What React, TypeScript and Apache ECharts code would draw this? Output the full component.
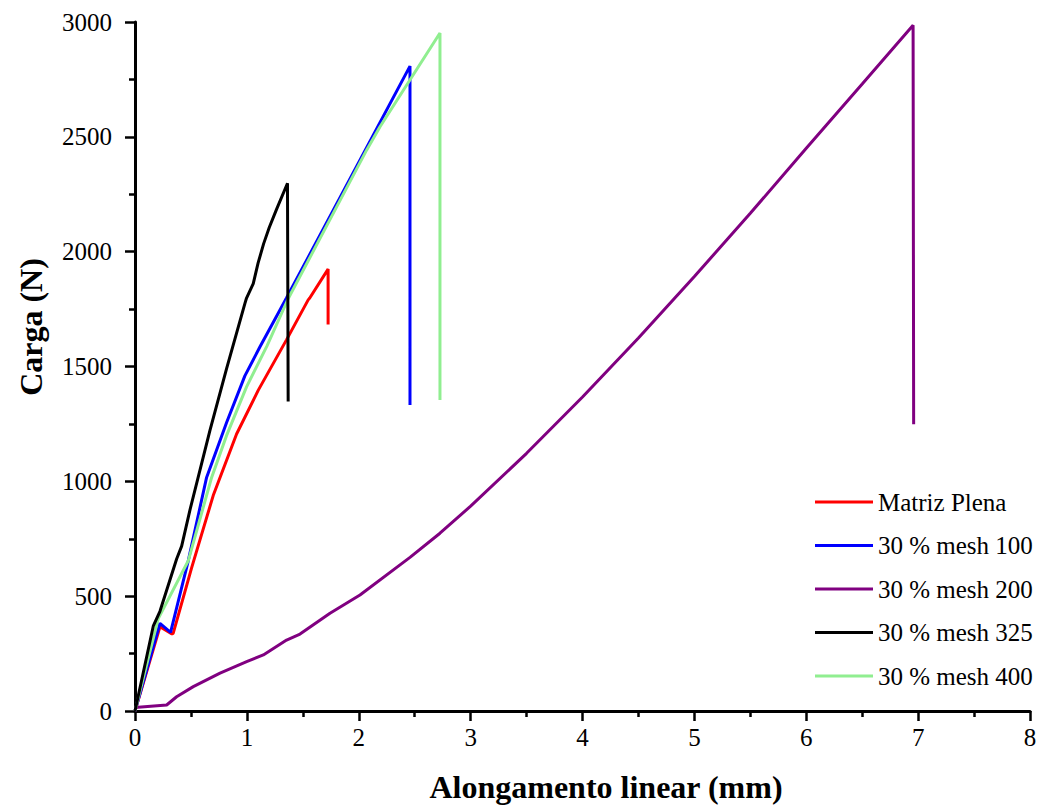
import React, { useEffect, useRef } from "react";
import * as echarts from "echarts";

// Load (N) versus linear elongation (mm) for each specimen, [mm, N] pairs.
const matrizPlena: [number, number][] = [
  [0, 0], [0.223, 367], [0.33, 335], [0.342, 339], [0.506, 623], [0.699, 938],
  [0.908, 1206], [1.101, 1396], [1.354, 1616], [1.548, 1790], [1.562, 1798],
  [1.726, 1924], [1.726, 1683],
];

const mesh100: [number, number][] = [
  [0, 0], [0.223, 382], [0.318, 342], [0.476, 654], [0.64, 1017], [0.818, 1255],
  [0.982, 1459], [1.116, 1585], [1.354, 1798], [2.458, 2808], [2.458, 1332],
];

const mesh200: [number, number][] = [
  [0, 15], [0.283, 26], [0.372, 62], [0.521, 106], [0.76, 165], [0.998, 215],
  [1.147, 244], [1.355, 309], [1.475, 335], [1.743, 426], [2.011, 505],
  [2.458, 669], [2.726, 774], [3.0, 892], [3.5, 1122], [4.0, 1367],
  [4.5, 1624], [5.0, 1892], [5.5, 2167], [6.0, 2450], [6.5, 2730],
  [6.955, 2986], [6.96, 1249],
];

const mesh325: [number, number][] = [
  [0, 0], [0.164, 371], [0.223, 434], [0.372, 662], [0.417, 718], [0.491, 875],
  [0.67, 1222], [0.818, 1490], [0.982, 1774], [0.997, 1798], [1.057, 1861],
  [1.1, 1950], [1.15, 2035], [1.2, 2105], [1.265, 2184], [1.363, 2298],
  [1.369, 1348],
];

const mesh400: [number, number][] = [
  [0, 0], [0.208, 402], [0.476, 654], [0.685, 1017], [0.818, 1199], [0.997, 1411],
  [1.18, 1590], [1.369, 1795], [2.07, 2442], [2.19, 2544], [2.726, 2952],
  [2.726, 1354],
];

const seriesNames = [
  "Matriz Plena",
  "30 % mesh 100",
  "30 % mesh 200",
  "30 % mesh 325",
  "30 % mesh 400",
];

const xName = "Alongamento linear (mm)";
const yName = "Carga (N)";

const serif = "'Liberation Serif', 'Times New Roman', serif";

export default function App() {
  const ref = useRef<HTMLDivElement>(null);

  useEffect(() => {
    if (!ref.current) return;
    const chart = echarts.init(ref.current, null, { renderer: "svg" });

    const line = (name: string, data: [number, number][], color: string) => ({
      name,
      type: "line",
      data,
      symbol: "none",
      showSymbol: false,
      color,
      lineStyle: { color, width: 3 },
    });

    const axisCommon = {
      type: "value",
      axisLine: { show: true, onZero: false, lineStyle: { color: "#000", width: 3 } },
      axisTick: { show: true, inside: false, length: 10, lineStyle: { color: "#000", width: 2.5 } },
      minorTick: { show: true, splitNumber: 2, length: 6, lineStyle: { color: "#000", width: 2.5 } },
      splitLine: { show: false },
      minorSplitLine: { show: false },
      axisLabel: {
        color: "#000",
        fontFamily: serif,
        fontSize: 25,
        formatter: (v: number) => String(v),
      },
    };

    chart.setOption({
      animation: false,
      backgroundColor: "#fff",
      grid: { left: 135, right: 13, top: 22, bottom: 96, containLabel: false },
      xAxis: {
        ...axisCommon,
        min: 0,
        max: 8,
        interval: 1,
        axisLabel: { ...axisCommon.axisLabel, margin: 14 },
      },
      yAxis: {
        ...axisCommon,
        min: 0,
        max: 3000,
        interval: 500,
        axisLabel: { ...axisCommon.axisLabel, margin: 23 },
      },
      legend: {
        orient: "vertical",
        left: 810,
        top: 484,
        icon: "rect",
        itemWidth: 58,
        itemHeight: 3,
        itemGap: 17.5,
        data: seriesNames,
        textStyle: { color: "#000", fontFamily: serif, fontSize: 25, lineHeight: 26 },
      },
      graphic: [
        {
          type: "text",
          x: 606,
          y: 787,
          style: {
            text: xName,
            font: `bold 32px ${serif}`,
            fill: "#000",
            textAlign: "center",
            textVerticalAlign: "middle",
            align: "center",
            verticalAlign: "middle",
          },
        },
        {
          type: "text",
          x: 31,
          y: 327,
          rotation: Math.PI / 2,
          style: {
            text: yName,
            font: `bold 32px ${serif}`,
            fill: "#000",
            textAlign: "center",
            textVerticalAlign: "middle",
            align: "center",
            verticalAlign: "middle",
          },
        },
      ],
      series: [
        line(seriesNames[0], matrizPlena, "#ff0000"),
        line(seriesNames[1], mesh100, "#0000ff"),
        line(seriesNames[2], mesh200, "#800080"),
        line(seriesNames[4], mesh400, "#90ee90"),
        line(seriesNames[3], mesh325, "#000000"),
      ],
    });

    return () => chart.dispose();
  }, []);

  return (
    <div
      ref={ref}
      style={{ position: "absolute", left: 0, top: 0, width: 1043, height: 807 }}
    />
  );
}
